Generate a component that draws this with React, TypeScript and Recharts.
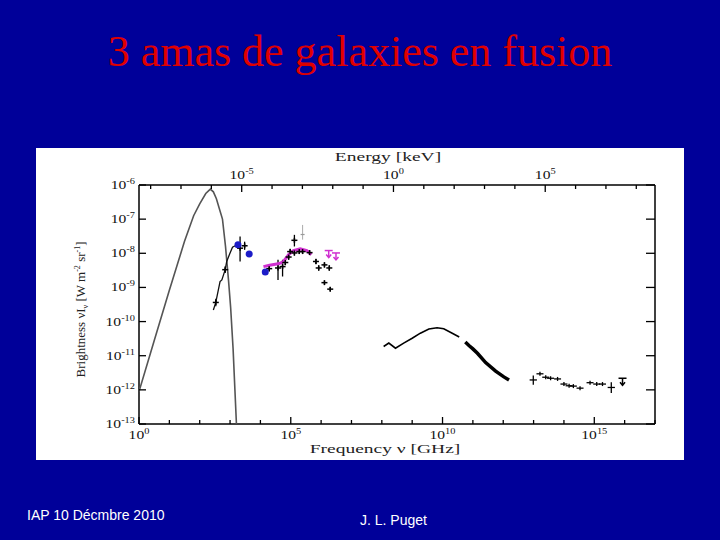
import React from 'react';
import { ScatterChart, Scatter, XAxis, YAxis, ErrorBar } from 'recharts';

// everything as log10 values
// frequency in GHz, brightness nu*I_nu in W m^-2 sr^-1

// CMB black body (grey curve)
const cmbLogNu = [0, 0.5, 1.0, 1.5, 1.8, 2.0, 2.2, 2.35, 2.45, 2.55, 2.65, 2.75, 2.85, 2.95, 3.02, 3.1, 3.16, 3.21];
const cmbLogI = [-12.05, -10.56, -9.08, -7.65, -6.9, -6.55, -6.25, -6.12, -6.2, -6.4, -6.7, -7.0, -7.8, -8.8, -9.6, -10.8, -12.0, -13.0];

// far-IR background, black line
const dustLogNu = [2.45, 2.53, 2.67, 2.73, 2.84, 2.89, 3.0, 3.08, 3.17];
const dustLogI = [-9.66, -9.44, -8.83, -8.78, -8.48, -8.24, -7.99, -7.82, -7.78];
const dustMarkLogNu = [2.53, 2.84];
const dustMarkLogI = [-9.44, -8.48];
const dustMarkLo = [-9.55, -8.58];
const dustMarkHi = [-9.33, -8.38];

// blue points
const blueLogNu = [3.26, 3.63, 4.16];
const blueLogI = [-7.75, -8.02, -8.55];

// black IR / optical points with error bars
const irLogNu = [3.33, 3.48, 4.29, 4.58, 4.73, 4.82, 4.93, 4.98, 5.12, 5.12, 5.28, 5.39, 5.62, 5.83, 5.92, 6.11, 6.27, 6.11, 6.30];
const irLogI = [-7.85, -7.78, -8.45, -8.43, -8.39, -8.27, -8.11, -7.95, -7.62, -7.99, -7.95, -7.95, -7.98, -8.24, -8.43, -8.34, -8.43, -8.86, -9.05];
const irLogLo = [-8.24, -7.9, -8.53, -8.78, -8.68, -8.35, -8.19, -8.03, -7.8, -8.07, -8.02, -8.02, -8.05, -8.32, -8.51, -8.42, -8.51, -8.92, -9.11];
const irLogHi = [-7.51, -7.66, -8.37, -8.19, -8.19, -8.19, -8.03, -7.87, -7.46, -7.91, -7.88, -7.88, -7.91, -8.16, -8.35, -8.26, -8.35, -8.8, -8.99];

// faint grey point
const faintLogNu = [5.39];
const faintLogI = [-7.45];
const faintLo = [-7.6];
const faintHi = [-7.17];

// magenta model + upper limits
const magLogNu = [4.1, 4.3, 4.49, 4.62, 4.76, 4.93, 5.09, 5.31, 5.53, 5.68];
const magLogI = [-8.39, -8.35, -8.32, -8.3, -8.24, -8.04, -7.92, -7.87, -7.92, -8.04];
const magLimLogNu = [6.25, 6.49];
const magLimLogI = [-7.92, -7.99];

// X-ray background
const xrayLogNu = [8.06, 8.23, 8.45, 8.72, 9.0, 9.27, 9.55, 9.82, 10.04, 10.32, 10.55];
const xrayLogI = [-10.73, -10.63, -10.78, -10.63, -10.49, -10.34, -10.22, -10.18, -10.21, -10.34, -10.45];
const hardLogNu = [10.75, 10.87, 11.0, 11.15, 11.42, 11.75, 12.02, 12.19];
const hardLogI = [-10.6, -10.7, -10.8, -10.93, -11.2, -11.45, -11.62, -11.71];

// gamma-ray points
const gammaLogNu = [13.21, 13.4, 13.56, 13.79, 14.0, 14.17, 14.31, 14.53, 14.86, 15.08, 15.27];
const gammaLogI = [-11.53, -11.63, -11.66, -11.68, -11.83, -11.88, -11.89, -11.95, -11.79, -11.83, -11.83];
const bigLogNu = [12.99, 15.56];
const bigLogI = [-11.71, -11.93];
const bigLogNuLo = [12.87, 15.44];
const bigLogNuHi = [13.11, 15.68];
const bigLogILo = [-11.85, -12.09];
const bigLogIHi = [-11.58, -11.78];
const gammaLimLogNu = [15.93];
const gammaLimLogI = [-11.66];

// axes
const freqExp = [0, 1, 2, 3, 4, 5, 6, 7, 8, 9, 10, 11, 12, 13, 14, 15, 16, 17];
const brightExp = [-13, -12, -11, -10, -9, -8, -7, -6];
const energyExp = [-8, -7, -6, -5, -4, -3, -2, -1, 0, 1, 2, 3, 4, 5, 6, 7, 8];
const GHZ_PER_KEV = 2.418e8;

const toPts = (lx: number[], ly: number[]) => lx.map((v, i) => ({ x: 10 ** v, y: 10 ** ly[i] }));
const withErr = (lx: number[], ly: number[], lo: number[], hi: number[]) =>
  lx.map((v, i) => {
    const y = 10 ** ly[i];
    return { x: 10 ** v, y, ey: [y - 10 ** lo[i], 10 ** hi[i] - y] };
  });

const cmb = toPts(cmbLogNu, cmbLogI);
const dust = toPts(dustLogNu, dustLogI);
const dustMarks = withErr(dustMarkLogNu, dustMarkLogI, dustMarkLo, dustMarkHi);
const blue = toPts(blueLogNu, blueLogI);
const ir = withErr(irLogNu, irLogI, irLogLo, irLogHi);
const faint = withErr(faintLogNu, faintLogI, faintLo, faintHi);
const mag = toPts(magLogNu, magLogI);
const magLim = toPts(magLimLogNu, magLimLogI);
const xray = toPts(xrayLogNu, xrayLogI);
const hard = toPts(hardLogNu, hardLogI);
const gamma = toPts(gammaLogNu, gammaLogI);
const big = bigLogNu.map((v, i) => {
  const x = 10 ** v;
  const y = 10 ** bigLogI[i];
  return {
    x,
    y,
    ex: [x - 10 ** bigLogNuLo[i], 10 ** bigLogNuHi[i] - x],
    ey: [y - 10 ** bigLogILo[i], 10 ** bigLogIHi[i] - y],
  };
});
const gammaLim = toPts(gammaLimLogNu, gammaLimLogI);

const SERIF = '"Liberation Serif", "DejaVu Serif", serif';
const SANS = '"Liberation Sans", Arial, sans-serif';

const Pow = ({ x, y, e, anchor }: any) => (
  <text
    transform={`translate(${x},${y}) scale(1.3,1)`}
    textAnchor={anchor}
    fontFamily={SERIF}
    fontSize={12}
    fill="#111"
  >
    10<tspan dy={-5} fontSize={8}>{e}</tspan>
  </text>
);

const BottomTick = ({ x, y, payload }: any) => {
  const e = Math.round(Math.log10(payload.value));
  const major = e % 5 === 0;
  return (
    <g>
      <line x1={x} x2={x} y1={y} y2={y - (major ? 7 : 4)} stroke="#000" strokeWidth={1.3} />
      {major && <Pow x={x} y={y + 15} e={e} anchor="middle" />}
    </g>
  );
};

const TopTick = ({ x, y, payload }: any) => {
  const e = Math.round(Math.log10(payload.value / GHZ_PER_KEV));
  const major = e % 5 === 0;
  return (
    <g>
      <line x1={x} x2={x} y1={y} y2={y + (major ? 7 : 4)} stroke="#000" strokeWidth={1.3} />
      {major && <Pow x={x} y={y - 6} e={e} anchor="middle" />}
    </g>
  );
};

const LeftTick = ({ x, y, payload }: any) => {
  const e = Math.round(Math.log10(payload.value));
  return (
    <g>
      <line x1={x} x2={x + 7} y1={y} y2={y} stroke="#000" strokeWidth={1.3} />
      <Pow x={x - 4} y={y + 4} e={e} anchor="end" />
    </g>
  );
};

const RightTick = ({ x, y }: any) => (
  <line x1={x} x2={x - 9} y1={y} y2={y} stroke="#000" strokeWidth={1.3} />
);

const NoDot = () => <g />;

const PlusMark = ({ cx, cy }: any) => (
  <g stroke="#000" strokeWidth={1.5}>
    <line x1={cx - 3} x2={cx + 3} y1={cy} y2={cy} />
    <line x1={cx} x2={cx} y1={cy - 2.5} y2={cy + 2.5} />
  </g>
);

const SmallPlus = ({ cx, cy }: any) => (
  <g stroke="#000" strokeWidth={1.3}>
    <line x1={cx - 3.5} x2={cx + 3.5} y1={cy} y2={cy} />
    <line x1={cx} x2={cx} y1={cy - 2} y2={cy + 2} />
  </g>
);

const FaintMark = ({ cx, cy }: any) => (
  <line x1={cx - 2} x2={cx + 2} y1={cy} y2={cy} stroke="#999" strokeWidth={1.2} />
);

const BlueDot = ({ cx, cy }: any) => <circle cx={cx} cy={cy} r={3.5} fill="#1c1cc8" />;

const limit = (color: string) => ({ cx, cy }: any) => (
  <g stroke={color} strokeWidth={1.5} fill="none">
    <line x1={cx - 4} x2={cx + 4} y1={cy} y2={cy} />
    <line x1={cx} x2={cx} y1={cy} y2={cy + 7} />
    <path d={`M${cx - 2.5},${cy + 4}L${cx},${cy + 7}L${cx + 2.5},${cy + 4}`} />
  </g>
);
const MagLimit = limit('#d030d0');
const BlackLimit = limit('#000');

const common = { xAxisId: 'nu', yAxisId: 'I', isAnimationActive: false, legendType: 'none' as const };

export default function App() {
  return (
    <div
      style={{
        position: 'fixed',
        left: 0,
        top: 0,
        width: 720,
        height: 540,
        background: '#000099',
        overflow: 'hidden',
      }}
    >
      <div
        style={{
          position: 'absolute',
          left: 0,
          top: 30,
          width: 720,
          textAlign: 'center',
          fontFamily: SERIF,
          fontSize: 44,
          lineHeight: '44px',
          color: '#e00000',
        }}
      >
        3 amas de galaxies en fusion
      </div>

      <div style={{ position: 'absolute', left: 36, top: 148, width: 648, height: 312, background: '#fff' }}>
        <ScatterChart width={648} height={312} margin={{ top: 0, right: 0, bottom: 0, left: 0 }}>
          <XAxis
            xAxisId="nu"
            dataKey="x"
            type="number"
            scale="log"
            domain={[1, 1e17]}
            allowDataOverflow
            ticks={freqExp.map((e) => 10 ** e)}
            interval={0}
            tickSize={0}
            tickMargin={0}
            tickLine={false}
            tick={<BottomTick />}
            height={36}
            axisLine={{ stroke: '#000', strokeWidth: 1.5 }}
          />
          <XAxis
            xAxisId="keV"
            dataKey="x"
            orientation="top"
            type="number"
            scale="log"
            domain={[1, 1e17]}
            allowDataOverflow
            ticks={energyExp.map((e) => GHZ_PER_KEV * 10 ** e)}
            interval={0}
            tickSize={0}
            tickMargin={0}
            tickLine={false}
            tick={<TopTick />}
            height={37}
            axisLine={{ stroke: '#000', strokeWidth: 1.5 }}
          />
          <YAxis
            yAxisId="I"
            dataKey="y"
            type="number"
            scale="log"
            domain={[1e-13, 1e-6]}
            allowDataOverflow
            ticks={brightExp.map((e) => 10 ** e)}
            interval={0}
            tickSize={0}
            tickMargin={0}
            tickLine={false}
            tick={<LeftTick />}
            width={103}
            axisLine={{ stroke: '#000', strokeWidth: 1.5 }}
          />
          <YAxis
            yAxisId="right"
            dataKey="y"
            orientation="right"
            type="number"
            scale="log"
            domain={[1e-13, 1e-6]}
            allowDataOverflow
            ticks={brightExp.map((e) => 10 ** e)}
            interval={0}
            tickSize={0}
            tickMargin={0}
            tickLine={false}
            tick={<RightTick />}
            width={29}
            axisLine={{ stroke: '#000', strokeWidth: 1.5 }}
          />

          <Scatter {...common} data={cmb} line={{ stroke: '#555', strokeWidth: 1.6 }} lineType="joint" shape={<NoDot />} />
          <Scatter {...common} data={dust} line={{ stroke: '#111', strokeWidth: 1.3 }} lineType="joint" shape={<NoDot />} />
          <Scatter {...common} data={dustMarks} shape={<PlusMark />}>
            <ErrorBar dataKey="ey" direction="y" width={0} stroke="#000" strokeWidth={1.3} />
          </Scatter>
          <Scatter {...common} data={mag} line={{ stroke: '#d030d0', strokeWidth: 3 }} lineType="joint" shape={<NoDot />} />
          <Scatter {...common} data={faint} shape={<FaintMark />}>
            <ErrorBar dataKey="ey" direction="y" width={0} stroke="#aaa" strokeWidth={1} />
          </Scatter>
          <Scatter {...common} data={ir} shape={<PlusMark />}>
            <ErrorBar dataKey="ey" direction="y" width={0} stroke="#000" strokeWidth={1.3} />
          </Scatter>
          <Scatter {...common} data={blue} shape={<BlueDot />} />
          <Scatter {...common} data={magLim} shape={<MagLimit />} />
          <Scatter {...common} data={xray} line={{ stroke: '#000', strokeWidth: 1.6 }} lineType="joint" shape={<NoDot />} />
          <Scatter {...common} data={hard} line={{ stroke: '#000', strokeWidth: 3.5 }} lineType="joint" shape={<NoDot />} />
          <Scatter {...common} data={gamma} shape={<SmallPlus />} />
          <Scatter {...common} data={big} shape={<NoDot />}>
            <ErrorBar dataKey="ex" direction="x" width={0} stroke="#000" strokeWidth={1.3} />
            <ErrorBar dataKey="ey" direction="y" width={0} stroke="#000" strokeWidth={1.3} />
          </Scatter>
          <Scatter {...common} data={gammaLim} shape={<BlackLimit />} />
        </ScatterChart>

        <div
          style={{
            position: 'absolute',
            left: 252,
            top: 1,
            width: 200,
            textAlign: 'center',
            fontFamily: SERIF,
            fontSize: 13,
            color: '#222',
            transform: 'scaleX(1.5)',
          }}
        >
          Energy [keV]
        </div>
        <div
          style={{
            position: 'absolute',
            left: 249,
            top: 293,
            width: 200,
            textAlign: 'center',
            fontFamily: SERIF,
            fontSize: 13,
            color: '#222',
            transform: 'scaleX(1.5)',
            whiteSpace: 'nowrap',
          }}
        >
          Frequency ν [GHz]
        </div>
        <div
          style={{
            position: 'absolute',
            left: 46 - 100,
            top: 157 - 9,
            width: 200,
            textAlign: 'center',
            fontFamily: SERIF,
            fontSize: 13,
            lineHeight: '18px',
            color: '#222',
            transform: 'rotate(-90deg)',
            whiteSpace: 'nowrap',
          }}
        >
          Brightness νI<sub style={{ fontSize: 8 }}>ν</sub> [W m<sup style={{ fontSize: 8 }}>-2</sup> sr
          <sup style={{ fontSize: 8 }}>-1</sup>]
        </div>
      </div>

      <div
        style={{
          position: 'absolute',
          left: 27,
          top: 507,
          fontFamily: SANS,
          fontSize: 14,
          color: '#fff',
        }}
      >
        IAP 10 Décmbre 2010
      </div>
      <div
        style={{
          position: 'absolute',
          left: 360,
          top: 512,
          fontFamily: SANS,
          fontSize: 14,
          color: '#fff',
        }}
      >
        J. L. Puget
      </div>
    </div>
  );
}
